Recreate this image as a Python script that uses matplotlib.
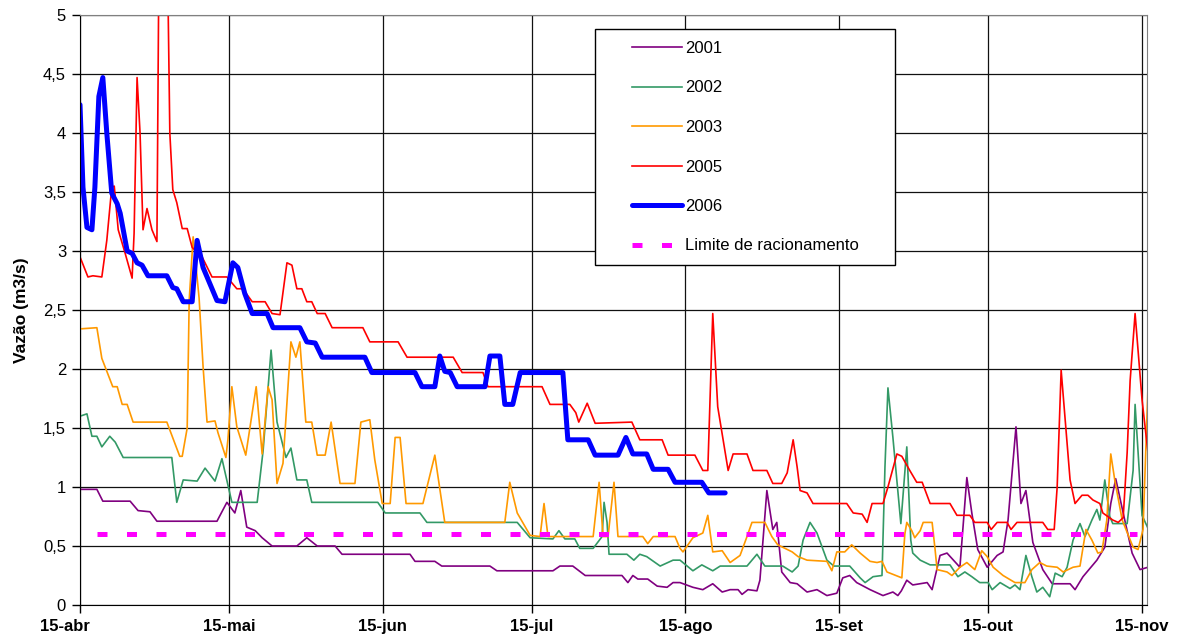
import matplotlib.pyplot as plt
from matplotlib.patches import Rectangle
from matplotlib.transforms import ScaledTranslation

plt.rcParams['font.family'] = ['Liberation Sans', 'DejaVu Sans']

# eixo x: dias contados a partir de 15-abr
tick_days = [0, 30, 61, 91, 122, 153, 183, 214]
tick_labels = ["15-abr", "15-mai", "15-jun", "15-jul", "15-ago", "15-set", "15-out", "15-nov"]
y_ticks = [0, 0.5, 1, 1.5, 2, 2.5, 3, 3.5, 4, 4.5, 5]
y_labels = ["0", "0,5", "1", "1,5", "2", "2,5", "3", "3,5", "4", "4,5", "5"]

# 2001
d2001 = [0, 3.4, 4.6, 10.1, 11.7, 14.1, 15.5, 27.6, 29.6, 31.2, 32.4, 33.6, 35.3, 36.7, 38.7, 43.7,
         45.7, 47.8, 51.4, 52.8, 66.5, 67.5, 71.5, 72.9, 82.6, 84.0, 95.3, 96.7, 99.3, 101.8, 109.2,
         110.4, 111.4, 112.4, 114.4, 116.3, 118.3, 119.5, 120.9, 123.5, 125.5, 127.5, 129.4, 131,
         132.6, 133.4, 134.6, 136.4, 137.0, 138.4, 139.6, 140.4, 141.4, 143.1, 144.5, 146.5, 148.5,
         150.5, 152.5, 153.7, 155.1, 156.5, 159.2, 161.8, 163.8, 164.8, 165.5, 166.6, 167.8, 170.7,
         171.7, 173.3, 174.7, 177.3, 178.7, 179.7, 180.9, 182.8, 184.8, 186.0, 187.0, 188.6, 189.6,
         190.6, 192.0, 194.0, 195.9, 199.5, 200.5, 202.1, 204.9, 206.5, 207.7, 208.7, 210.2, 212.0,
         213.6, 215.2]
v2001 = [0.98, 0.98, 0.88, 0.88, 0.80, 0.79, 0.71, 0.71, 0.87, 0.78, 0.97, 0.66, 0.63, 0.57, 0.50, 0.50,
         0.57, 0.50, 0.50, 0.43, 0.43, 0.37, 0.37, 0.33, 0.33, 0.29, 0.29, 0.33, 0.33, 0.25, 0.25,
         0.19, 0.25, 0.22, 0.22, 0.16, 0.15, 0.19, 0.19, 0.15, 0.13, 0.18, 0.11, 0.13,
         0.13, 0.09, 0.13, 0.12, 0.21, 0.97, 0.64, 0.70, 0.28, 0.19, 0.18, 0.11, 0.13,
         0.08, 0.10, 0.23, 0.25, 0.19, 0.13, 0.08, 0.11, 0.08, 0.12, 0.21, 0.17, 0.19,
         0.13, 0.42, 0.44, 0.32, 1.08, 0.78, 0.47, 0.32, 0.42, 0.45, 0.72, 1.51, 0.86,
         0.97, 0.53, 0.30, 0.18, 0.18, 0.13, 0.24, 0.38, 0.49, 0.86, 1.07, 0.78, 0.44,
         0.30, 0.32]

# 2002
d2002 = [0, 1.4, 2.4, 3.4, 4.4, 6.0, 7.1, 8.7, 18.5, 19.5, 20.8, 23.6, 25.2, 27.2, 28.6, 30.6, 35.7,
         36.9, 38.5, 39.7, 41.5, 42.5, 43.7, 45.7, 46.7, 60.0, 61.5, 68.5, 69.9, 88.1, 90.7, 95.3,
         96.5, 97.7, 99.7, 100.7, 103.4, 105.2, 105.6, 106.2, 106.6, 110.2, 111.6, 112.8, 114.2,
         116.9, 119.5, 120.9, 123.5, 125.3, 127.5, 129.0, 134.4, 136.4, 138.0, 141.6, 143.5, 144.7,
         145.7, 147.1, 148.5, 150.5, 151.9, 155.1, 157.2, 158.2, 159.8, 161.6, 162.2, 162.8, 163.8,
         165.4, 166.6, 167.4, 167.8, 169.3, 171.3, 175.3, 176.9, 178.3, 179.7, 181.3, 183.0, 183.8,
         185.4, 187.4, 188.4, 189.4, 190.6, 191.8, 192.8, 194.0, 195.4, 196.5, 197.9, 198.9, 200.1,
         201.5, 202.5, 203.9, 204.9, 205.5, 206.5, 207.5, 208.1, 211.0, 212.2, 212.6, 214.0, 215.2]
v2002 = [1.60, 1.62, 1.43, 1.43, 1.34, 1.43, 1.38, 1.25, 1.25, 0.87, 1.06, 1.05, 1.16, 1.05, 1.24, 0.87, 0.87,
         1.31, 2.16, 1.55, 1.25, 1.33, 1.06, 1.06, 0.87, 0.87, 0.78, 0.78, 0.70, 0.70, 0.57, 0.56,
         0.63, 0.56, 0.56, 0.48, 0.48, 0.58, 0.87, 0.70, 0.43, 0.43, 0.38, 0.43, 0.41,
         0.33, 0.38, 0.38, 0.29, 0.34, 0.29, 0.33, 0.33, 0.43, 0.33, 0.33, 0.28, 0.33,
         0.55, 0.70, 0.61, 0.38, 0.33, 0.33, 0.23, 0.19, 0.24, 0.25, 1.17, 1.84, 1.42,
         0.69, 1.34, 0.55, 0.44, 0.38, 0.34, 0.34, 0.24, 0.28, 0.24, 0.19, 0.19, 0.13,
         0.19, 0.14, 0.17, 0.13, 0.42, 0.24, 0.11, 0.15, 0.07, 0.27, 0.24, 0.32, 0.55,
         0.69, 0.58, 0.72, 0.81, 0.72, 1.06, 0.75, 0.69, 0.69, 1.14, 1.70, 0.76, 0.65]

# 2003
d2003 = [0, 3.4, 4.4, 6.6, 7.5, 8.5, 9.5, 10.7, 17.5, 20.1, 20.6, 21.6, 22.0, 22.8, 24.0, 24.8, 25.6,
         27.2, 27.8, 29.4, 29.8, 30.6, 31.6, 33.4, 35.5, 36.7, 37.9, 38.7, 39.7, 40.9, 42.5, 43.5,
         44.3, 45.5, 46.7, 47.8, 49.4, 50.6, 52.4, 55.4, 56.6, 58.4, 59.4, 60.9, 62.5, 63.5, 64.5,
         65.7, 69.1, 71.5, 73.5, 85.6, 86.6, 88.1, 90.7, 92.7, 93.5, 94.3, 103.4, 104.6, 105.4,
         106.4, 107.6, 108.4, 113.4, 114.4, 115.5, 119.9, 120.9, 121.5, 123.5, 125.5, 126.5, 127.5,
         129.4, 131.0, 133.0, 134.4, 135.4, 138.0, 139.4, 140.6, 143.5, 144.7, 146.5, 150.5, 151.5,
         152.5, 154.1, 155.5, 157.2, 159.2, 160.6, 161.6, 162.6, 165.6, 166.2, 166.6, 167.6, 168.2,
         169.3, 169.9, 171.7, 172.3, 172.7, 174.7, 175.7, 177.3, 178.7, 180.3, 181.7, 182.8, 184.0,
         186.0, 188.4, 190.4, 191.8, 193.4, 194.8, 196.9, 198.1, 200.1, 201.5, 202.7, 203.9, 205.1,
         205.9, 206.9, 207.7, 208.5, 210.0, 212.2, 213.2, 214.2, 215.2]
v2003 = [2.34, 2.35, 2.09, 1.85, 1.85, 1.70, 1.70, 1.55, 1.55, 1.26, 1.26, 1.50, 2.58, 3.12, 2.60, 2.02, 1.55,
         1.56, 1.46, 1.25, 1.40, 1.85, 1.51, 1.27, 1.85, 1.28, 1.85, 1.74, 1.03, 1.20, 2.23, 2.10,
         2.23, 1.55, 1.55, 1.27, 1.27, 1.55, 1.03, 1.03, 1.55, 1.57, 1.23, 0.86, 0.86, 1.42, 1.42,
         0.86, 0.86, 1.27, 0.70, 0.70, 1.04, 0.78, 0.59, 0.58, 0.86, 0.58, 0.58, 1.04, 0.58,
         0.58, 1.04, 0.58, 0.58, 0.52, 0.58, 0.58, 0.48, 0.45, 0.57, 0.61, 0.76, 0.45,
         0.46, 0.36, 0.42, 0.58, 0.70, 0.70, 0.58, 0.51, 0.45, 0.41, 0.38, 0.37, 0.29,
         0.45, 0.45, 0.51, 0.44, 0.37, 0.36, 0.37, 0.28, 0.23, 0.60, 0.70, 0.63, 0.57,
         0.63, 0.70, 0.70, 0.47, 0.30, 0.28, 0.25, 0.32, 0.36, 0.30, 0.46, 0.41, 0.32,
         0.25, 0.19, 0.19, 0.30, 0.36, 0.33, 0.32, 0.28, 0.32, 0.33, 0.64, 0.55, 0.44,
         0.45, 0.72, 1.28, 1.06, 0.72, 0.49, 0.47, 0.64, 1.85]

# 2005
d2005 = [0, 1.6, 2.6, 4.4, 5.4, 6.4, 6.9, 7.7, 9.1, 10.5, 10.9, 11.5, 12.1, 12.7, 13.5, 14.5, 15.5,
         16.5, 18.1, 18.7, 19.5, 20.6, 21.6, 22.6, 24.6, 26.6, 29.6, 31.6, 32.8, 34.7, 37.3, 38.7,
         40.3, 41.7, 42.7, 43.7, 44.7, 45.7, 46.7, 47.8, 49.4, 50.8, 57.0, 58.4, 64.1, 65.9, 75.2,
         77.0, 81.2, 82.2, 93.1, 94.7, 98.7, 99.9, 100.5, 102.2, 103.8, 111.2, 112.8, 117.3, 118.5,
         123.9, 125.5, 126.5, 127.5, 128.5, 130.6, 131.6, 134.4, 135.6, 138.4, 139.6, 141.4, 142.5,
         143.7, 144.5, 145.1, 146.5, 147.7, 154.5, 155.8, 157.6, 158.6, 159.6, 161.8, 162.8, 164.6,
         165.6, 167.2, 168.6, 169.7, 171.3, 175.3, 176.7, 179.3, 180.3, 182.8, 183.6, 184.8, 186.8,
         187.6, 188.8, 194.0, 195.0, 196.3, 196.9, 197.7, 199.5, 200.5, 201.9, 203.1, 204.1, 205.5,
         206.1, 208.1, 209.2, 210.2, 211.0, 211.6, 212.6, 214.0, 215.2]
v2005 = [2.95, 2.78, 2.79, 2.78, 3.09, 3.54, 3.55, 3.18, 2.98, 2.77, 3.15, 4.47, 4.0, 3.18, 3.36, 3.18, 3.08,
         9.0, 4.0, 3.52, 3.41, 3.19, 3.19, 3.03, 2.95, 2.78, 2.78, 2.68, 2.68, 2.57, 2.57, 2.47,
         2.46, 2.90, 2.88, 2.68, 2.68, 2.57, 2.57, 2.47, 2.47, 2.35, 2.35, 2.23, 2.23, 2.10, 2.10,
         1.97, 1.97, 1.85, 1.85, 1.70, 1.70, 1.63, 1.55, 1.71, 1.54, 1.55, 1.40, 1.40, 1.27,
         1.27, 1.14, 1.14, 2.47, 1.68, 1.14, 1.28, 1.28, 1.14, 1.14, 1.03, 1.03, 1.12,
         1.40, 1.17, 0.97, 0.95, 0.86, 0.86, 0.78, 0.77, 0.70, 0.86, 0.86, 1.00, 1.28,
         1.26, 1.14, 1.04, 1.04, 0.86, 0.86, 0.76, 0.76, 0.70, 0.70, 0.64, 0.70, 0.70,
         0.64, 0.70, 0.70, 0.64, 0.64, 1.00, 1.99, 1.06, 0.86, 0.93, 0.93, 0.89, 0.86,
         0.78, 0.72, 0.70, 0.74, 1.29, 1.90, 2.47, 1.74, 1.29]

# 2006
d2006 = [0, 0.6, 1.4, 2.4, 3.0, 3.8, 4.6, 5.4, 6.4, 7.5, 8.1, 9.5, 10.5, 11.5, 12.5, 13.7, 17.5, 18.7,
         19.5, 20.8, 22.6, 23.6, 24.8, 27.6, 29.2, 30.8, 31.8, 33.2, 34.7, 37.7, 38.9, 44.3, 45.7,
         47.4, 48.8, 57.4, 58.8, 67.5, 68.9, 71.5, 72.5, 73.5, 74.6, 76.0, 81.6, 82.6, 84.6, 85.6,
         87.2, 88.7, 97.3, 98.3, 102.4, 103.8, 108.4, 110.0, 111.4, 114.2, 115.5, 118.5, 119.9,
         125.3, 126.7, 130.0]
v2006 = [4.24, 3.54, 3.20, 3.18, 3.54, 4.31, 4.47, 4.0, 3.49, 3.40, 3.32, 3.0, 2.98, 2.90, 2.88, 2.79, 2.79, 2.69,
         2.68, 2.57, 2.57, 3.09, 2.86, 2.58, 2.57, 2.90, 2.86, 2.64, 2.47, 2.47, 2.35, 2.35, 2.23,
         2.22, 2.10, 2.10, 1.97, 1.97, 1.85, 1.85, 2.11, 1.98, 1.97, 1.85, 1.85, 2.11, 2.11, 1.70,
         1.70, 1.97, 1.97, 1.40, 1.40, 1.27, 1.27, 1.42, 1.28, 1.28, 1.15, 1.15, 1.04,
         1.04, 0.95, 0.95]

# limite de racionamento
limite_days = [3.4, 213]
limite = [0.6, 0.6]

fig = plt.figure(figsize=(11.87, 6.41), dpi=100)
ax = fig.add_axes([80/1187, 36/641, 1067/1187, 590/641])

ax.plot(d2001, v2001, color="#800080", lw=1.2, label="2001")
ax.plot(d2002, v2002, color="#339966", lw=1.2, label="2002")
ax.plot(d2003, v2003, color="#FF9900", lw=1.2, label="2003")
ax.plot(d2005, v2005, color="#FF0000", lw=1.2, label="2005")
ax.plot(d2006, v2006, color="#0000FF", lw=3.6, label="2006", solid_capstyle="round")
ax.plot(limite_days, limite, color="#FF00FF", lw=3.6, ls=(0, (2.0, 3.9)),
        dash_capstyle="butt", label="Limite de racionamento")

ax.set_xlim(0, 215)
ax.set_ylim(0, 5)
ax.set_xticks(tick_days)
ax.set_xticklabels(tick_labels, fontsize=12, fontweight="bold")
ax.set_yticks(y_ticks)
ax.set_yticklabels(y_labels, fontsize=12)
ax.set_ylabel("Vazão (m3/s)", fontsize=12.5, fontweight="bold", labelpad=10)
ax.tick_params(axis="both", direction="out", length=6, width=1, color="black", pad=4)
ax.grid(True, color="#111111", lw=0.9)
ax.set_axisbelow(True)
for side in ["left", "bottom"]:
    ax.spines[side].set_color("black")
for side in ["top", "right"]:
    ax.spines[side].set_color("#808080")

# primeiro rótulo deslocado para a esquerda, como no original
lab0 = ax.get_xticklabels()[0]
lab0.set_transform(lab0.get_transform() + ScaledTranslation(-0.15, 0, fig.dpi_scale_trans))

# caixa da legenda
box = Rectangle((515/1067, (605-265)/590), 300/1067, 236/590, transform=ax.transAxes,
                facecolor="white", edgecolor="black", lw=1.0, zorder=5)
ax.add_patch(box)
leg = ax.legend(loc="upper left", bbox_to_anchor=(552/1067, (605-41)/590), frameon=False,
                fontsize=12, handlelength=3.0, handletextpad=0.2, labelspacing=1.47,
                borderpad=0, borderaxespad=0)
leg.set_zorder(6)

plt.savefig("out.png", dpi=100)
